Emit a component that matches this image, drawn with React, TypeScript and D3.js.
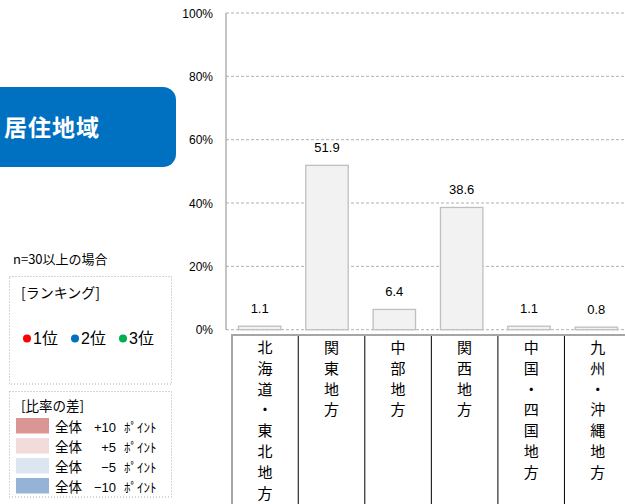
import React from "react";
import * as d3 from "d3";

const categories = ["北海道・東北地方", "関東地方", "中部地方", "関西地方", "中国・四国地方", "九州・沖縄地方"];
const values = [1.1, 51.9, 6.4, 38.6, 1.1, 0.8];
const yTicks = [0, 20, 40, 60, 80, 100];
const rankLabels = ["1位", "2位", "3位"];
const rankColors = ["#ff0000", "#0070c0", "#00b050"];
const diffLabels = ["+10", "+5", "−5", "−10"];
const diffColors = ["#da9694", "#f2dcdb", "#dce6f1", "#95b3d7"];

const JP = "'Noto Sans CJK JP', 'Noto Sans', sans-serif";
const NUM = "'Liberation Sans', Arial, 'Noto Sans CJK JP', sans-serif";

export default function App() {
  const W = 625, H = 504;
  const y = d3.scaleLinear().domain([0, 100]).range([329.7, 13]);
  const x = d3.scaleBand<string>().domain(categories).range([226, 630]).paddingInner(0.37).paddingOuter(0.185);
  const xt = d3.scaleBand<string>().domain(categories).range([231.7, 631]);
  const chars = (s: string) => Array.from(s);

  return (
    <svg width={W} height={H} style={{ position: "absolute", left: 0, top: 0 }}>
      <rect x={0} y={0} width={W} height={H} fill="#fff" />
      {/* title */}
      <rect x={-20} y={87} width={196} height={80} rx={13} fill="#0070c0" />
      <text x={4} y={136} fill="#fff" fontFamily={JP} fontWeight="bold" fontSize={23} letterSpacing={1}>居住地域</text>

      {/* legends */}
      <text x={13} y={264} fontFamily={JP} fontSize={13} fill="#000">n=30以上の場合</text>
      <rect x={9.5} y={276.5} width={162} height={107.5} fill="none" stroke="#aaa" strokeDasharray="1,2" />
      <text x={21} y={298} fontFamily={JP} fontSize={14} fill="#000">[ランキング]</text>
      {rankLabels.map((l, i) => (
        <g key={l}>
          <circle cx={27 + i * 48} cy={338.5} r={4} fill={rankColors[i]} />
          <text x={33 + i * 48} y={344} fontFamily={NUM} fontSize={16} fill="#000">{l}</text>
        </g>
      ))}
      <rect x={9.5} y={391.5} width={162} height={105.5} fill="none" stroke="#aaa" strokeDasharray="1,2" />
      <text x={21} y={411} fontFamily={JP} fontSize={13.5} fill="#000">[比率の差]</text>
      {diffLabels.map((l, i) => (
        <g key={l}>
          <rect x={16} y={418 + i * 20} width={33} height={15.5} fill={diffColors[i]} />
          <text x={55} y={431.5 + i * 20} fontFamily={JP} fontSize={13.5} fill="#000">全体</text>
          <text x={116} y={431.5 + i * 20} textAnchor="end" fontFamily={NUM} fontSize={13} fill="#000">{l}</text>
          <text x={124} y={431.5 + i * 20} fontFamily={JP} fontSize={13} fill="#000">ﾎﾟｲﾝﾄ</text>
        </g>
      ))}

      {/* gridlines */}
      {yTicks.map((t) => (
        <g key={t}>
          <line x1={226} x2={W} y1={y(t)} y2={y(t)} stroke="#b0b0b0" strokeDasharray="3,2" />
          <text x={213} y={y(t) + 4.5} textAnchor="end" fontFamily={NUM} fontSize={12} fill="#000">{t}%</text>
        </g>
      ))}
      <line x1={226} x2={226} y1={y(100)} y2={y(0)} stroke="#a6a6a6" strokeWidth={1.3} />

      {/* bars */}
      {categories.map((c, i) => (
        <g key={c}>
          <rect x={x(c)!} y={y(values[i])} width={x.bandwidth()} height={y(0) - y(values[i])} fill="#f2f2f2" stroke="#bfbfbf" strokeWidth={1.3} />
          <text x={x(c)! + x.bandwidth() / 2} y={y(values[i]) - 13} textAnchor="middle" fontFamily={NUM} fontSize={13} fill="#000">{values[i].toFixed(1)}</text>
        </g>
      ))}

      {/* category table */}
      <line x1={231} x2={W} y1={335} y2={335} stroke="#a6a6a6" strokeWidth={2} />
      <line x1={232} x2={232} y1={334} y2={H} stroke="#a6a6a6" strokeWidth={2} />
      {categories.slice(1).map((c) => (
        <line key={c} x1={xt(c)!} x2={xt(c)!} y1={336} y2={H} stroke="#000" strokeWidth={1} />
      ))}
      {categories.map((c) => (
        <text key={c} fontFamily={JP} fontSize={15} fill="#000" textAnchor="middle">
          {chars(c).map((ch, j) => (
            <tspan key={j} x={xt(c)! + xt.bandwidth() / 2} y={353 + j * 20.8}>{ch}</tspan>
          ))}
        </text>
      ))}
    </svg>
  );
}
